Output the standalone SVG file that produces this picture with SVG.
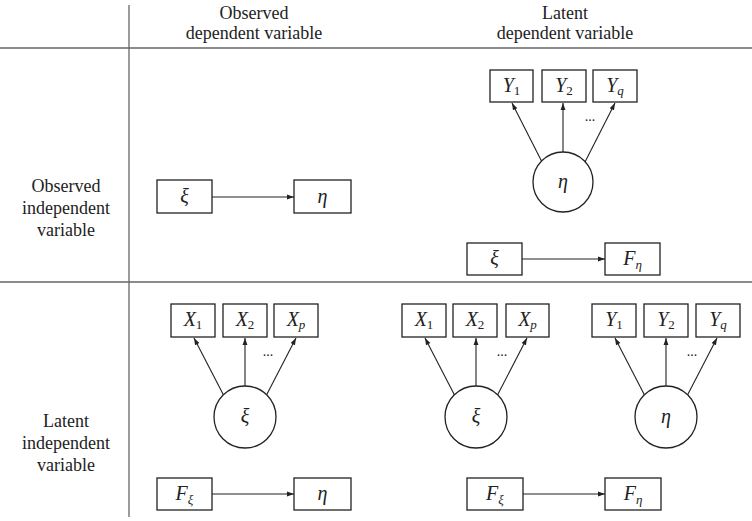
<svg xmlns="http://www.w3.org/2000/svg" width="752" height="521" viewBox="0 0 752 521">
<defs>
<marker id="ah" viewBox="0 0 10 10" refX="10" refY="5" markerWidth="7" markerHeight="7" markerUnits="userSpaceOnUse" orient="auto">
<path d="M0,1.5 L10,5 L0,8.5 Z" fill="#222"/>
</marker>
<style>
.grid{stroke:#666;stroke-width:1.3;fill:none}
.box{fill:#fff;stroke:#222;stroke-width:1.3}
.circ{fill:#fff;stroke:#222;stroke-width:1.3}
.hd{font-family:"Liberation Serif","Times New Roman","DejaVu Serif",serif;font-size:18px;fill:#222;text-anchor:middle}
.lb{font-family:"Liberation Serif","Times New Roman","DejaVu Serif",serif;font-size:20px;font-style:italic;fill:#222;text-anchor:middle}
.sub{font-size:13px;font-style:normal}
.subi{font-size:13px;font-style:italic}
.dots{font-family:"Liberation Serif",serif;font-size:14px;fill:#222;text-anchor:middle}
.ar{stroke:#222;stroke-width:1.1;fill:none;marker-end:url(#ah)}
</style>
</defs>
<rect width="752" height="521" fill="#fff"/>
<g id="grid">
<line class="grid" x1="129" y1="5" x2="129" y2="517"/>
<line class="grid" x1="0" y1="48" x2="752" y2="48"/>
<line class="grid" x1="0" y1="282" x2="752" y2="282"/>
</g>
<g id="headers">
<text class="hd" x="254" y="19">Observed</text>
<text class="hd" x="254" y="39">dependent variable</text>
<text class="hd" x="565" y="19">Latent</text>
<text class="hd" x="565" y="39">dependent variable</text>
<text class="hd" x="66" y="192">Observed</text>
<text class="hd" x="66" y="214">independent</text>
<text class="hd" x="66" y="236">variable</text>
<text class="hd" x="66" y="427">Latent</text>
<text class="hd" x="66" y="449">independent</text>
<text class="hd" x="66" y="471">variable</text>
</g>
<g id="connectors">
<line class="ar" x1="212" y1="197" x2="294" y2="197"/>
<line class="ar" x1="542" y1="162" x2="512" y2="103"/>
<line class="ar" x1="563" y1="152" x2="563" y2="103"/>
<line class="ar" x1="585" y1="162" x2="615" y2="103"/>
<line class="ar" x1="522" y1="259" x2="605" y2="259"/>
<line class="ar" x1="224" y1="396" x2="194" y2="338"/>
<line class="ar" x1="245" y1="386" x2="245" y2="338"/>
<line class="ar" x1="266" y1="396" x2="296" y2="338"/>
<line class="ar" x1="212" y1="494" x2="294" y2="494"/>
<line class="ar" x1="455" y1="396" x2="425" y2="338"/>
<line class="ar" x1="476" y1="386" x2="476" y2="338"/>
<line class="ar" x1="497" y1="396" x2="527" y2="338"/>
<line class="ar" x1="645" y1="396" x2="615" y2="338"/>
<line class="ar" x1="666" y1="386" x2="666" y2="338"/>
<line class="ar" x1="687" y1="396" x2="717" y2="338"/>
<line class="ar" x1="523" y1="494" x2="605" y2="494"/>
</g>
<g id="dots">
<text class="dots" x="590" y="121">...</text>
<text class="dots" x="268" y="356">...</text>
<text class="dots" x="502" y="356">...</text>
<text class="dots" x="692" y="356">...</text>
</g>
<g id="n-xi-obs"><rect class="box" x="157" y="180" width="55" height="33"/><text class="lb" x="184.5" y="203">ξ</text></g>
<g id="n-eta-obs"><rect class="box" x="294" y="180" width="57" height="33"/><text class="lb" x="322.5" y="203">η</text></g>
<g id="n-y1-a"><rect class="box" x="490" y="70" width="43" height="32"/><text class="lb" x="511.5" y="92">Y<tspan class="sub" dy="3">1</tspan></text></g>
<g id="n-y2-a"><rect class="box" x="542" y="70" width="44" height="32"/><text class="lb" x="564" y="92">Y<tspan class="sub" dy="3">2</tspan></text></g>
<g id="n-yq-a"><rect class="box" x="593" y="70" width="44" height="32"/><text class="lb" x="615" y="92">Y<tspan class="subi" dy="3">q</tspan></text></g>
<g id="n-eta-a"><circle class="circ" cx="563" cy="182" r="30"/><text class="lb" x="563" y="188">η</text></g>
<g id="n-xi-b"><rect class="box" x="467" y="243" width="55" height="32"/><text class="lb" x="494.5" y="265">ξ</text></g>
<g id="n-feta-b"><rect class="box" x="605" y="243" width="55" height="32"/><text class="lb" x="632.5" y="265">F<tspan class="subi" dy="4">η</tspan></text></g>
<g id="n-x1-c"><rect class="box" x="171" y="304" width="44" height="33"/><text class="lb" x="193" y="326">X<tspan class="sub" dy="3">1</tspan></text></g>
<g id="n-x2-c"><rect class="box" x="223" y="304" width="44" height="33"/><text class="lb" x="245" y="326">X<tspan class="sub" dy="3">2</tspan></text></g>
<g id="n-xp-c"><rect class="box" x="274" y="304" width="44" height="33"/><text class="lb" x="296" y="326">X<tspan class="subi" dy="3">p</tspan></text></g>
<g id="n-xi-c"><circle class="circ" cx="245" cy="417" r="31"/><text class="lb" x="245" y="423">ξ</text></g>
<g id="n-fxi-c"><rect class="box" x="157" y="478" width="55" height="32"/><text class="lb" x="184.5" y="500">F<tspan class="subi" dy="4">ξ</tspan></text></g>
<g id="n-eta-c"><rect class="box" x="294" y="478" width="57" height="32"/><text class="lb" x="322.5" y="500">η</text></g>
<g id="n-x1-d"><rect class="box" x="402" y="304" width="44" height="33"/><text class="lb" x="424" y="326">X<tspan class="sub" dy="3">1</tspan></text></g>
<g id="n-x2-d"><rect class="box" x="453" y="304" width="44" height="33"/><text class="lb" x="475" y="326">X<tspan class="sub" dy="3">2</tspan></text></g>
<g id="n-xp-d"><rect class="box" x="506" y="304" width="43" height="33"/><text class="lb" x="527.5" y="326">X<tspan class="subi" dy="3">p</tspan></text></g>
<g id="n-xi-d"><circle class="circ" cx="476" cy="417" r="31"/><text class="lb" x="476" y="423">ξ</text></g>
<g id="n-y1-d"><rect class="box" x="592" y="304" width="44" height="33"/><text class="lb" x="614" y="326">Y<tspan class="sub" dy="3">1</tspan></text></g>
<g id="n-y2-d"><rect class="box" x="644" y="304" width="44" height="33"/><text class="lb" x="666" y="326">Y<tspan class="sub" dy="3">2</tspan></text></g>
<g id="n-yq-d"><rect class="box" x="696" y="304" width="44" height="33"/><text class="lb" x="718" y="326">Y<tspan class="subi" dy="3">q</tspan></text></g>
<g id="n-eta-d"><circle class="circ" cx="666" cy="417" r="31"/><text class="lb" x="666" y="423">η</text></g>
<g id="n-fxi-d"><rect class="box" x="467" y="478" width="56" height="32"/><text class="lb" x="495" y="500">F<tspan class="subi" dy="4">ξ</tspan></text></g>
<g id="n-feta-d"><rect class="box" x="605" y="478" width="56" height="32"/><text class="lb" x="633" y="500">F<tspan class="subi" dy="4">η</tspan></text></g>
</svg>
